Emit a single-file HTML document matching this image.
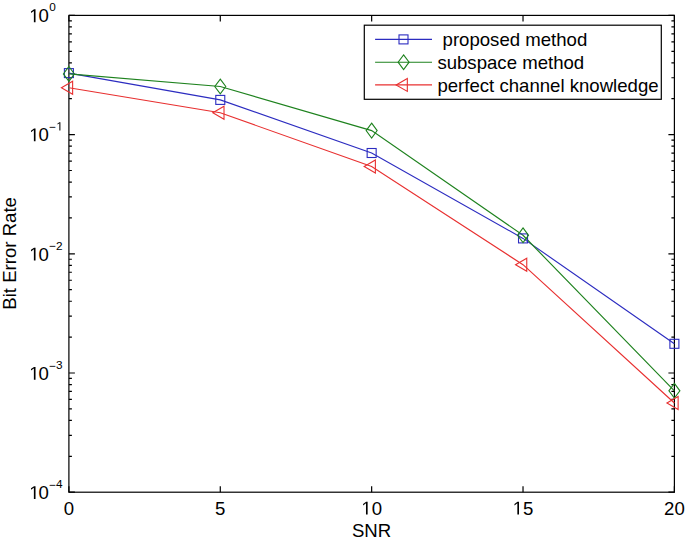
<!DOCTYPE html><html><head><meta charset="utf-8"><style>html,body{margin:0;padding:0;background:#fff;}svg{display:block;}text{font-family:"Liberation Sans",sans-serif;fill:#000;}</style></head><body>
<svg width="685" height="541" viewBox="0 0 685 541">
<rect x="0" y="0" width="685" height="541" fill="#fff"/>
<path d="M68.90 492.20V486.20M68.90 15.40V21.40M220.28 492.20V486.20M220.28 15.40V21.40M371.65 492.20V486.20M371.65 15.40V21.40M523.02 492.20V486.20M523.02 15.40V21.40M674.40 492.20V486.20M674.40 15.40V21.40M68.90 15.40H74.90M674.40 15.40H668.40M68.90 98.72H71.90M674.40 98.72H671.40M68.90 77.73H71.90M674.40 77.73H671.40M68.90 62.83H71.90M674.40 62.83H671.40M68.90 51.28H71.90M674.40 51.28H671.40M68.90 41.84H71.90M674.40 41.84H671.40M68.90 33.86H71.90M674.40 33.86H671.40M68.90 26.95H71.90M674.40 26.95H671.40M68.90 20.85H71.90M674.40 20.85H671.40M68.90 134.60H74.90M674.40 134.60H668.40M68.90 217.92H71.90M674.40 217.92H671.40M68.90 196.93H71.90M674.40 196.93H671.40M68.90 182.03H71.90M674.40 182.03H671.40M68.90 170.48H71.90M674.40 170.48H671.40M68.90 161.04H71.90M674.40 161.04H671.40M68.90 153.06H71.90M674.40 153.06H671.40M68.90 146.15H71.90M674.40 146.15H671.40M68.90 140.05H71.90M674.40 140.05H671.40M68.90 253.80H74.90M674.40 253.80H668.40M68.90 337.12H71.90M674.40 337.12H671.40M68.90 316.13H71.90M674.40 316.13H671.40M68.90 301.23H71.90M674.40 301.23H671.40M68.90 289.68H71.90M674.40 289.68H671.40M68.90 280.24H71.90M674.40 280.24H671.40M68.90 272.26H71.90M674.40 272.26H671.40M68.90 265.35H71.90M674.40 265.35H671.40M68.90 259.25H71.90M674.40 259.25H671.40M68.90 373.00H74.90M674.40 373.00H668.40M68.90 456.32H71.90M674.40 456.32H671.40M68.90 435.33H71.90M674.40 435.33H671.40M68.90 420.43H71.90M674.40 420.43H671.40M68.90 408.88H71.90M674.40 408.88H671.40M68.90 399.44H71.90M674.40 399.44H671.40M68.90 391.46H71.90M674.40 391.46H671.40M68.90 384.55H71.90M674.40 384.55H671.40M68.90 378.45H71.90M674.40 378.45H671.40M68.90 492.20H74.90M674.40 492.20H668.40" stroke="#000" stroke-width="1.2" fill="none"/>
<rect x="68.90" y="15.40" width="605.50" height="476.80" stroke="#000" stroke-width="1.2" fill="none"/>
<polyline points="68.90,73.10 220.28,99.90 371.65,153.00 523.02,238.40 674.40,343.80" stroke="#2c2cc0" stroke-width="1.15" fill="none"/>
<polyline points="68.90,73.90 220.28,86.50 371.65,130.60 523.02,235.30 674.40,390.80" stroke="#1e821e" stroke-width="1.15" fill="none"/>
<polyline points="68.90,87.70 220.28,112.80 371.65,166.50 523.02,264.70 674.40,403.00" stroke="#e83030" stroke-width="1.15" fill="none"/>
<rect x="64.40" y="68.60" width="9.00" height="9.00" stroke="#2c2cc0" stroke-width="1.1" fill="none"/>
<rect x="215.78" y="95.40" width="9.00" height="9.00" stroke="#2c2cc0" stroke-width="1.1" fill="none"/>
<rect x="367.15" y="148.50" width="9.00" height="9.00" stroke="#2c2cc0" stroke-width="1.1" fill="none"/>
<rect x="518.52" y="233.90" width="9.00" height="9.00" stroke="#2c2cc0" stroke-width="1.1" fill="none"/>
<rect x="669.90" y="339.30" width="9.00" height="9.00" stroke="#2c2cc0" stroke-width="1.1" fill="none"/>
<path d="M68.90 66.50L74.40 73.90L68.90 81.30L63.40 73.90Z" stroke="#1e821e" stroke-width="1.1" fill="none"/>
<path d="M220.28 79.10L225.78 86.50L220.28 93.90L214.78 86.50Z" stroke="#1e821e" stroke-width="1.1" fill="none"/>
<path d="M371.65 123.20L377.15 130.60L371.65 138.00L366.15 130.60Z" stroke="#1e821e" stroke-width="1.1" fill="none"/>
<path d="M523.02 227.90L528.52 235.30L523.02 242.70L517.52 235.30Z" stroke="#1e821e" stroke-width="1.1" fill="none"/>
<path d="M674.40 383.40L679.90 390.80L674.40 398.20L668.90 390.80Z" stroke="#1e821e" stroke-width="1.1" fill="none"/>
<path d="M61.43 87.70L72.63 81.20L72.63 94.20Z" stroke="#e83030" stroke-width="1.1" fill="none"/>
<path d="M212.81 112.80L224.01 106.30L224.01 119.30Z" stroke="#e83030" stroke-width="1.1" fill="none"/>
<path d="M364.18 166.50L375.38 160.00L375.38 173.00Z" stroke="#e83030" stroke-width="1.1" fill="none"/>
<path d="M515.56 264.70L526.76 258.20L526.76 271.20Z" stroke="#e83030" stroke-width="1.1" fill="none"/>
<path d="M666.93 403.00L678.13 396.50L678.13 409.50Z" stroke="#e83030" stroke-width="1.1" fill="none"/>
<rect x="364.3" y="25.2" width="297.00" height="74.10" stroke="#000" stroke-width="1.2" fill="#fff"/>
<path d="M375.1 39.4H432.0" stroke="#2c2cc0" stroke-width="1.15"/>
<rect x="399.00" y="34.90" width="9.00" height="9.00" stroke="#2c2cc0" stroke-width="1.1" fill="none"/>
<text x="437.4" y="46.20" font-size="18.6" xml:space="preserve"> proposed method</text>
<path d="M375.1 62.2H432.0" stroke="#1e821e" stroke-width="1.15"/>
<path d="M403.60 54.80L409.10 62.20L403.60 69.60L398.10 62.20Z" stroke="#1e821e" stroke-width="1.1" fill="none"/>
<text x="437.4" y="69.00" font-size="18.6" xml:space="preserve">subspace method</text>
<path d="M375.1 84.9H432.0" stroke="#e83030" stroke-width="1.15"/>
<path d="M396.13 84.90L407.33 78.40L407.33 91.40Z" stroke="#e83030" stroke-width="1.1" fill="none"/>
<text x="437.4" y="91.70" font-size="18.6" xml:space="preserve">perfect channel knowledge</text>
<path d="M515 0V1237L197 1010V1180L530 1409H696V0Z" transform="translate(29.2 22.15) scale(0.00908 -0.00908)" fill="#000"/>
<text x="38.54" y="22.15" font-size="18.6">0</text>
<text x="49.2" y="11.20" font-size="11.8">0</text>
<path d="M515 0V1237L197 1010V1180L530 1409H696V0Z" transform="translate(29.2 141.35) scale(0.00908 -0.00908)" fill="#000"/>
<text x="38.54" y="141.35" font-size="18.6">0</text>
<text x="49.2" y="131.10" font-size="11.8">−</text>
<path d="M515 0V1237L197 1010V1180L530 1409H696V0Z" transform="translate(56.39 130.40) scale(0.00576 -0.00576)" fill="#000"/>
<path d="M515 0V1237L197 1010V1180L530 1409H696V0Z" transform="translate(29.2 260.55) scale(0.00908 -0.00908)" fill="#000"/>
<text x="38.54" y="260.55" font-size="18.6">0</text>
<text x="49.2" y="250.30" font-size="11.8">−</text>
<text x="56.09" y="249.60" font-size="11.8">2</text>
<path d="M515 0V1237L197 1010V1180L530 1409H696V0Z" transform="translate(29.2 379.75) scale(0.00908 -0.00908)" fill="#000"/>
<text x="38.54" y="379.75" font-size="18.6">0</text>
<text x="49.2" y="369.50" font-size="11.8">−</text>
<text x="56.09" y="368.80" font-size="11.8">3</text>
<path d="M515 0V1237L197 1010V1180L530 1409H696V0Z" transform="translate(29.2 498.95) scale(0.00908 -0.00908)" fill="#000"/>
<text x="38.54" y="498.95" font-size="18.6">0</text>
<text x="49.2" y="488.70" font-size="11.8">−</text>
<text x="56.09" y="488.00" font-size="11.8">4</text>
<text x="63.73" y="514.60" font-size="18.6">0</text>
<text x="215.10" y="514.60" font-size="18.6">5</text>
<path d="M515 0V1237L197 1010V1180L530 1409H696V0Z" transform="translate(361.31 514.60) scale(0.00908 -0.00908)" fill="#000"/>
<text x="371.65" y="514.60" font-size="18.6">0</text>
<path d="M515 0V1237L197 1010V1180L530 1409H696V0Z" transform="translate(512.68 514.60) scale(0.00908 -0.00908)" fill="#000"/>
<text x="523.02" y="514.60" font-size="18.6">5</text>
<text x="664.06" y="514.60" font-size="18.6">20</text>
<text x="371.6" y="536.6" font-size="18.6" text-anchor="middle">SNR</text>
<text transform="translate(16.0 253.4) rotate(-90)" x="0" y="0" font-size="18.6" text-anchor="middle">Bit Error Rate</text>
</svg></body></html>
